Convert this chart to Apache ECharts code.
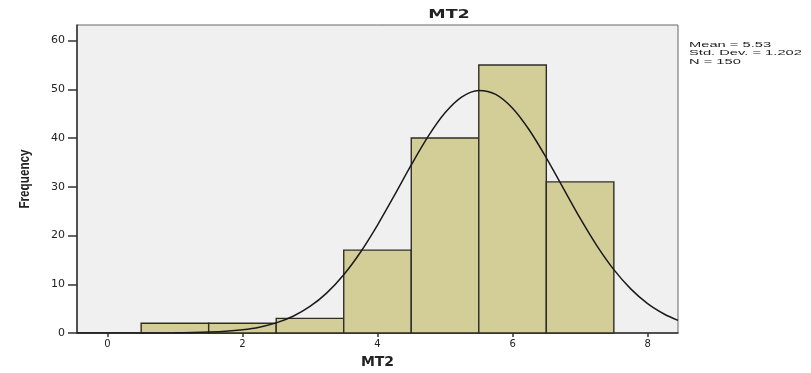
<!DOCTYPE html>
<html>
<head>
<meta charset="utf-8">
<script src="https://cdn.jsdelivr.net/npm/echarts@6/dist/echarts.min.js"></script>
<style>
  html, body { margin: 0; padding: 0; background: #fff; }
  #main { width: 811px; height: 373px; }
</style>
</head>
<body>
<div id="main"></div>
<script>
// histogram bins: [start, end, count]
var binStart = [0.5, 1.5, 2.5, 3.5, 4.5, 5.5, 6.5];
var binEnd = [1.5, 2.5, 3.5, 4.5, 5.5, 6.5, 7.5];
var counts = [2, 2, 3, 17, 40, 55, 31];

// normal curve
var curveX = [-0.45, 0.5, 1.0, 1.25, 1.5, 1.75, 2.0, 2.25, 2.5, 2.75, 3.0, 3.25, 3.5, 3.75, 4.0, 4.25, 4.5, 4.75,
  5.0, 5.25, 5.5, 5.75, 6.0, 6.25, 6.5, 6.75, 7.0, 7.25, 7.5, 7.75, 8.0, 8.25, 8.45];
var curveY = [0, 0.01, 0.04, 0.09, 0.18, 0.35, 0.67, 1.2, 2.08, 3.44, 5.44, 8.24, 11.96, 16.63, 22.15, 28.24, 34.49, 40.34,
  45.18, 48.46, 49.78, 48.96, 46.13, 41.61, 35.95, 29.75, 23.57, 17.89, 13.0, 9.05, 6.03, 3.85, 2.6];

var xTicks = [0, 2, 4, 6, 8];
var yTicks = [0, 10, 20, 30, 40, 50, 60];
var statLines = ['Mean = 5.53', 'Std. Dev. = 1.202', 'N = 150'];

var chart = echarts.init(document.getElementById('main'));

var barData = binStart.map(function (s, i) { return [s, binEnd[i], counts[i]]; });
var lineData = curveX.map(function (x, i) { return [x, curveY[i]]; });

chart.setOption({
    animation: false,
    grid: {
        left: 77, right: 133, top: 25, bottom: 40,
        outerBoundsMode: 'none',
        show: true,
        backgroundColor: '#f0f0f0',
        borderColor: '#666',
        borderWidth: 1
    },
    xAxis: {
        type: 'value',
        min: -0.45,
        max: 8.45,
        name: 'MT2',
        nameLocation: 'middle',
        nameGap: 22,
        nameTextStyle: { fontFamily: 'DejaVu Sans', fontSize: 14, fontWeight: 'bold', color: '#222' },
        axisLine: { show: true, onZero: false, lineStyle: { color: '#333', width: 1.5 } },
        axisTick: { show: true, customValues: xTicks, length: 4, lineStyle: { color: '#333', width: 1.5 } },
        axisLabel: { customValues: xTicks, fontFamily: 'DejaVu Sans', fontSize: 10, color: '#222', margin: 6 },
        splitLine: { show: false }
    },
    yAxis: {
        type: 'value',
        min: 0,
        max: 63.2,
        axisLine: { show: true, onZero: false, lineStyle: { color: '#333', width: 1.5 } },
        axisTick: { show: true, customValues: yTicks, length: 9, lineStyle: { color: '#333', width: 1.5 } },
        axisLabel: { customValues: yTicks, fontFamily: 'DejaVu Sans', fontSize: 11, color: '#222', margin: 12 },
        splitLine: { show: false }
    },
    series: [{
        type: 'custom',
        data: barData,
        encode: { x: [0, 1], y: 2 },
        renderItem: function (params, api) {
            var p0 = api.coord([api.value(0), 0]);
            var p1 = api.coord([api.value(1), api.value(2)]);
            return {
                type: 'rect',
                shape: { x: p0[0], y: p1[1], width: p1[0] - p0[0], height: p0[1] - p1[1] },
                style: { fill: '#d3ce98', stroke: '#2e2e26', lineWidth: 1.4 }
            };
        }
    }, {
        type: 'line',
        data: lineData,
        smooth: 0.3,
        showSymbol: false,
        lineStyle: { color: '#1a1a1a', width: 1.5 },
        z: 5
    }],
    graphic: [{
        type: 'text',
        x: 449,
        y: 15,
        scaleX: 1.25,
        scaleY: 0.85,
        style: {
            text: 'MT2',
            font: 'bold 14px DejaVu Sans',
            align: 'center',
            verticalAlign: 'middle',
            fill: '#222'
        }
    }, {
        type: 'text',
        x: 25,
        y: 179,
        rotation: Math.PI / 2,
        scaleX: 0.78,
        style: {
            text: 'Frequency',
            font: 'bold 15px Liberation Sans',
            align: 'center',
            verticalAlign: 'middle',
            fill: '#222'
        }
    }, {
        type: 'text',
        x: 689,
        y: 41,
        scaleX: 1.05,
        scaleY: 0.58,
        style: {
            text: statLines.join('\n'),
            font: '14px Liberation Sans',
            lineHeight: 14,
            fill: '#222'
        }
    }]
});
</script>
</body>
</html>
